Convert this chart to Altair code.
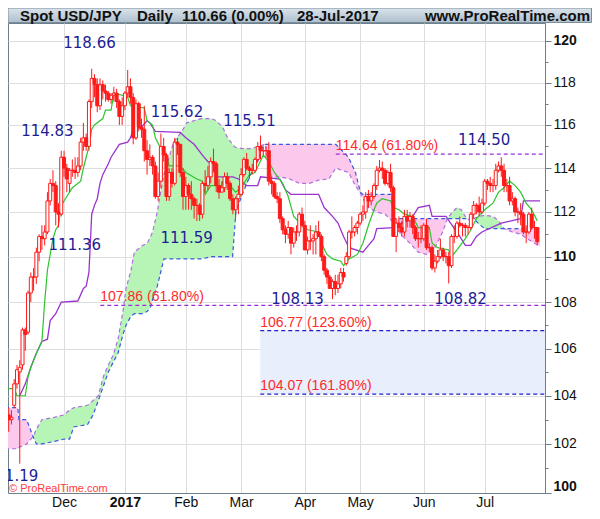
import altair as alt
import pandas as pd

# ---------------- data (trading-day index: 0 = Thu 1-Dec-2016) ----------------
FIRST_DAY = -20  # Thu 3-Nov-2016

OPEN = [
    # Nov 2016
    103.2, 103.0, 103.6, 104.5, 105.0, 105.3, 106.8, 106.7, 108.4, 109.1,
    109.1, 110.2, 110.9, 110.8, 111.1, 112.5, 113.3, 113.2, 112.0, 111.9,
    # Dec
    114.5, 114.0, 113.3, 113.9, 113.9, 113.8, 114.1, 115.2, 115.4, 115.0, 117.1,
    118.2, 117.9, 116.9, 117.9, 117.6, 117.5, 117.2, 117.4, 117.5, 117.1, 116.4,
    # Jan 2017
    116.9, 117.5, 117.8, 117.3, 115.4, 117.0, 115.9, 115.8, 114.8, 114.4, 114.5,
    114.1, 112.7, 113.4, 115.0, 114.6, 112.7, 113.8, 113.3, 115.2, 115.1, 113.8,
    # Feb
    112.7, 113.2, 112.8, 112.6, 112.3, 112.3, 111.9, 113.3, 113.2, 113.6,
    114.3, 114.2, 113.2, 112.9, 113.1, 113.6, 113.3, 112.6, 112.1, 112.6,
    # Mar
    112.8, 113.7, 114.4, 114.0, 113.9, 113.9, 114.4, 115.0, 114.8, 114.8, 114.8, 113.4,
    113.3, 112.7, 112.6, 111.7, 111.2, 111.0, 111.3, 110.6, 111.1, 111.1, 111.9,
    # Apr
    111.4, 110.3, 110.7, 110.7, 110.8, 111.1, 110.9, 110.0, 109.4, 109.1,
    108.6, 108.9, 108.6, 108.8, 109.3, 109.7, 110.0, 111.1, 111.1, 111.3,
    # May
    111.5, 111.9, 112.0, 112.7, 112.5, 112.7, 113.2, 113.9, 114.0, 113.9, 113.3, 113.8,
    113.1, 110.9, 111.5, 111.3, 111.1, 111.8, 111.6, 111.8, 111.3, 110.8, 110.8,
    # Jun
    110.8, 111.4, 110.4, 110.4, 109.5, 109.8, 110.0, 110.3, 110.0, 110.0, 109.6,
    110.9, 110.9, 111.5, 111.4, 111.4, 111.3, 111.3, 111.9, 112.3, 112.3, 112.0,
    # Jul
    112.4, 113.4, 113.3, 113.2, 113.2, 113.9, 114.1, 113.9, 113.2, 113.2,
    112.5, 112.6, 112.0, 112.0, 111.9, 111.1, 111.1, 111.9, 111.3, 111.3,
]
HIGH = [
    103.5, 103.4, 104.7, 105.3, 105.5, 106.9, 106.9, 108.5, 109.3, 109.5,
    110.4, 111.0, 111.4, 111.4, 112.9, 113.5, 113.9, 113.4, 112.4, 114.8,
    114.8, 114.2, 114.0, 114.4, 114.5, 114.5, 115.4, 116.1, 115.6, 117.2, 118.66,
    118.4, 118.2, 118.2, 118.1, 117.9, 117.6, 117.5, 117.8, 117.7, 117.2, 117.3,
    117.6, 118.6, 118.2, 117.5, 117.2, 117.1, 116.3, 116.9, 115.3, 115.1, 114.6,
    114.3, 113.8, 115.6, 115.4, 114.7, 114.0, 114.0, 115.4, 115.4, 115.1, 114.0,
    113.6, 113.3, 113.4, 112.7, 112.6, 112.4, 113.4, 113.9, 114.1, 114.5,
    114.9, 114.3, 113.5, 113.4, 113.8, 113.8, 113.4, 112.8, 112.7, 113.2,
    114.0, 114.5, 114.7, 114.1, 114.2, 114.5, 115.2, 115.51, 115.0, 115.0, 115.2, 113.6,
    113.4, 112.9, 112.9, 111.8, 111.4, 111.6, 111.3, 111.3, 111.4, 112.0, 112.2,
    111.6, 110.9, 111.4, 111.0, 111.4, 111.6, 111.0, 110.1, 109.5, 109.2,
    109.0, 109.2, 109.2, 109.5, 109.5, 110.2, 111.2, 111.8, 111.4, 111.6,
    112.0, 112.3, 112.9, 113.0, 112.9, 113.3, 114.1, 114.37, 114.3, 114.0, 113.9, 114.2,
    113.2, 111.7, 111.8, 111.6, 112.1, 112.1, 112.0, 111.9, 111.4, 111.1, 111.4,
    111.5, 111.7, 110.6, 110.5, 110.1, 110.3, 110.8, 110.4, 110.2, 110.2, 111.0,
    111.4, 111.6, 111.8, 111.5, 111.5, 111.4, 112.0, 112.5, 112.4, 112.7, 112.6,
    113.5, 113.5, 113.6, 113.5, 114.2, 114.3, 114.50, 114.2, 113.5, 113.6,
    112.9, 112.7, 112.2, 112.4, 112.0, 111.4, 112.0, 112.2, 111.6, 111.3,
]
LOW = [
    102.5, 102.8, 103.5, 104.3, 101.19, 105.1, 105.9, 106.6, 108.0, 108.5,
    108.8, 109.8, 110.3, 110.5, 111.0, 112.3, 112.9, 111.4, 111.3, 111.8,
    113.6, 112.9, 112.9, 113.6, 113.5, 113.6, 113.9, 114.8, 114.8, 114.8, 116.8,
    117.3, 116.6, 116.7, 117.2, 117.1, 117.1, 117.0, 117.1, 116.8, 116.0, 116.0,
    116.7, 117.3, 117.0, 115.1, 115.3, 115.7, 115.4, 114.3, 113.7, 114.1, 113.7,
    112.6, 112.5, 113.1, 114.3, 112.5, 112.5, 113.1, 113.2, 114.6, 113.6, 112.1,
    112.1, 112.1, 112.1, 111.7, 111.59, 111.6, 111.7, 112.9, 113.0, 113.3,
    113.8, 112.9, 112.6, 112.9, 112.9, 113.0, 112.5, 111.9, 111.7, 111.9,
    112.7, 113.6, 113.9, 113.5, 113.7, 113.8, 114.3, 114.4, 114.6, 114.5, 113.2, 112.8,
    112.6, 112.4, 111.5, 111.0, 110.6, 110.8, 110.1, 110.4, 110.7, 110.9, 111.3,
    110.3, 110.1, 110.3, 110.1, 110.1, 110.9, 109.8, 109.2, 108.8, 108.6,
    108.13, 108.3, 108.4, 108.6, 108.9, 109.6, 109.9, 110.8, 110.9, 111.0,
    111.4, 111.6, 111.7, 112.2, 112.3, 112.6, 113.0, 113.8, 113.5, 113.2, 113.2, 112.9,
    110.9, 110.2, 111.1, 110.9, 110.9, 111.3, 111.3, 111.0, 110.7, 110.4, 110.6,
    110.7, 110.3, 110.2, 109.4, 109.3, 109.7, 109.9, 109.8, 109.7, 108.82, 109.5,
    110.6, 110.8, 111.3, 110.9, 110.9, 111.0, 111.2, 111.7, 111.9, 111.8, 111.9,
    112.3, 113.0, 112.9, 112.9, 113.0, 113.8, 113.6, 112.9, 112.9, 112.3,
    112.3, 111.8, 111.5, 111.4, 111.0, 110.6, 111.0, 111.2, 110.8, 110.5,
]
CLOSE = [
    103.0, 103.1, 104.5, 105.1, 105.2, 106.8, 106.6, 108.4, 109.1, 109.1,
    110.2, 110.9, 110.8, 111.1, 112.5, 113.3, 113.2, 112.0, 111.9, 114.5,
    114.0, 113.5, 113.9, 113.9, 113.8, 114.1, 115.2, 115.4, 115.0, 117.1, 118.2,
    117.9, 116.9, 117.9, 117.6, 117.5, 117.2, 117.4, 117.5, 117.1, 116.4, 116.9,
    117.5, 117.8, 117.3, 115.4, 117.0, 115.9, 115.8, 114.8, 114.4, 114.5, 114.1,
    112.7, 113.4, 115.0, 114.6, 112.7, 113.8, 113.3, 115.2, 115.1, 113.8, 112.7,
    113.2, 112.8, 112.6, 112.3, 112.3, 111.9, 113.3, 113.2, 113.6, 114.3,
    114.2, 113.2, 112.9, 113.1, 113.6, 113.3, 112.6, 112.1, 112.6, 112.8,
    113.7, 114.4, 114.0, 113.9, 113.9, 114.4, 115.0, 114.8, 114.8, 114.8, 113.4, 113.3,
    112.7, 112.6, 111.7, 111.2, 111.0, 111.3, 110.6, 111.1, 111.1, 111.9, 111.4,
    110.3, 110.7, 110.7, 110.8, 111.1, 110.9, 110.0, 109.4, 109.1, 108.6,
    108.9, 108.6, 108.8, 109.3, 109.1, 110.0, 111.1, 111.1, 111.3, 111.5,
    111.9, 112.0, 112.7, 112.5, 112.7, 113.2, 113.9, 114.0, 113.9, 113.3, 113.8, 113.1,
    110.9, 111.5, 111.3, 111.1, 111.8, 111.6, 111.8, 111.3, 110.8, 110.8, 110.8,
    111.4, 110.4, 110.4, 109.5, 109.8, 110.0, 110.3, 110.0, 110.0, 109.6, 110.9,
    110.9, 111.5, 111.4, 111.4, 111.3, 111.3, 111.9, 112.3, 112.3, 112.0, 112.4,
    113.4, 113.3, 113.2, 113.2, 113.9, 114.1, 113.9, 113.2, 113.2, 112.5,
    112.6, 112.0, 112.0, 111.9, 111.1, 111.1, 111.9, 111.3, 111.3, 110.66,
]
assert len(OPEN) == len(HIGH) == len(LOW) == len(CLOSE)
DAY = list(range(FIRST_DAY, FIRST_DAY + len(CLOSE)))

MONTH_TICKS = [0, 22, 44, 64, 87, 107, 130, 152]
MONTH_LABELS = ["Dec", "2017", "Feb", "Mar", "Apr", "May", "Jun", "Jul"]

# Tenkan-sen (green) and Kijun-sen (purple)
TENKAN_DAY = [-21, -18, -17, -14, -13, -12, -10, -8, -7, -6, -5, -4, -3, -2, -1, 1, 2, 3, 6, 7,
              8, 9, 10, 11, 14, 15, 17, 18, 21, 23, 24, 29, 30, 32, 33, 35, 37, 38, 42, 44,
              48, 50, 51, 53, 57, 58, 60, 62, 64, 67, 69, 72, 74, 76, 79, 81, 83, 86, 88, 92,
              93, 95, 97, 100, 101, 103, 106, 108, 110, 112, 113, 115, 118, 119, 121, 123, 126,
              128, 132, 133, 135, 139, 140, 142, 145, 147, 149, 152, 155, 157, 159, 161, 163,
              165, 167, 169, 171]
TENKAN = [104.3, 104.3, 104.0, 104.0, 104.8, 105.2, 105.8, 106.3, 108.0, 109.4, 110.1, 110.8,
          111.2, 111.4, 112.3, 112.7, 112.9, 113.1, 113.4, 114.0, 114.5, 115.0, 115.8, 116.0,
          116.3, 116.7, 116.7, 117.5, 117.4, 117.3, 116.9, 116.8, 116.2, 116.0, 115.4, 114.9,
          114.6, 114.1, 114.1, 113.8, 113.5, 113.4, 112.8, 113.2, 113.2, 113.6, 113.2, 112.9,
          113.1, 113.7, 113.8, 114.6, 114.3, 113.8, 113.3, 112.7, 111.8, 111.4, 111.2, 111.1,
          110.6, 110.1, 109.9, 109.8, 109.6, 109.9, 110.1, 110.6, 111.4, 112.1, 112.4, 112.6,
          112.5, 112.2, 112.1, 111.9, 111.8, 111.3, 111.3, 110.6, 110.4, 110.3, 110.0, 110.3,
          110.8, 111.2, 111.7, 112.1, 112.4, 112.9, 113.1, 113.4, 113.2, 112.9, 112.4, 112.1,
          111.6]
KIJUN_DAY = [-16, -14, -12, -10, -8, -6, -5, -3, -1, 5, 7, 8, 9, 10, 11, 12, 13, 14, 16, 17,
             19, 20, 23, 24, 25, 28, 30, 31, 33, 42, 44, 47, 50, 52, 54, 55, 61, 63, 66, 70,
             71, 78, 80, 82, 92, 94, 97, 99, 101, 103, 108, 110, 112, 113, 119, 124, 126, 128,
             132, 133, 138, 143, 145, 147, 149, 151, 158, 165, 166, 172]
KIJUN = [104.0, 104.5, 105.2, 105.8, 106.3, 106.4, 107.2, 107.5, 108.0, 108.05, 108.6, 108.7,
         109.3, 111.9, 112.3, 112.6, 113.3, 113.7, 114.2, 114.5, 114.9, 115.1, 115.2, 115.4,
         115.8, 115.9, 116.2, 116.1, 115.7, 115.65, 115.4, 115.1, 114.6, 114.3, 114.2, 113.6,
         113.6, 113.5, 113.2, 113.2, 113.6, 113.5, 113.0, 112.8, 112.8, 112.2, 111.8, 111.5,
         110.9, 110.4, 110.2, 110.5, 110.8, 111.25, 111.3, 111.6, 111.8, 112.2, 112.3, 111.8,
         111.8, 110.9, 110.5, 110.5, 110.9, 111.1, 111.5, 111.7, 112.5, 112.5]

# Ichimoku cloud: senkou span A (purple dashed) and span B (blue dashed)
CLOUD_DAY = [-21.3, -16.7, -16.3, -13.5, -11.2, -10, -8, -3.5, 0, 2,
             3.5, 8.5, 10.5, 12.4, 14.2, 16, 17.7, 19.5, 21.3, 22.4,
             24.2, 25.4, 28.4, 30.1, 31.3, 32, 33.7, 34.9, 36.1, 39.6,
             42.6, 44.3, 49.6, 53.2, 55, 57.3, 59.1, 60.9, 61.5, 62.1,
             64.4, 67.4, 70.3, 71.5, 72.7, 74, 75, 78, 81.6, 85,
             88.7, 92, 95.7, 98.2, 100.5, 102.8, 105.3, 107.1, 108, 110,
             113, 116, 118.5, 118.9, 122, 125, 128, 131, 134, 137,
             138.5, 140, 142, 143.5, 145.5, 147, 148, 150, 152, 155,
             157, 159, 162, 165, 168, 172]
SPAN_A = [101.8, 101.8, 101.85, 102.0, 102.3, 102.6, 103.0, 103.1, 103.2, 103.4,
          103.5, 103.6, 103.8, 104.0, 104.8, 105.3, 105.7, 106.4, 107.6, 108.6,
          109.4, 110.2, 110.5, 110.6, 110.9, 111.1, 112.0, 112.9, 113.7, 115.2,
          115.7, 116.1, 116.3, 116.3, 116.2, 115.9, 115.4, 115.1, 115.0, 114.95,
          114.9, 114.9, 115.0, 115.05, 115.1, 114.2, 113.6, 113.6, 113.5, 113.3,
          113.3, 113.45, 113.5, 114.0, 113.9, 113.8, 113.2, 112.85, 112.6, 112.2,
          112.0, 111.9, 111.6, 111.55, 110.95, 110.6, 110.2, 110.1, 110.4, 111.15,
          111.7, 111.95, 112.2, 112.1, 111.7, 111.6, 111.7, 111.8, 111.85, 111.8,
          111.6, 111.25, 111.1, 111.0, 110.75, 110.45]
SPAN_B = [103.5, 103.5, 103.0, 103.0, 102.3, 102.0, 102.0, 102.1, 102.2, 102.2,
          102.7, 102.8, 103.2, 103.8, 104.4, 105.0, 105.4, 105.8, 106.6, 107.0,
          107.4, 107.5, 107.5, 107.6, 107.8, 108.1, 108.7, 109.3, 109.9, 109.9,
          109.9, 109.9, 109.9, 110.0, 110.0, 110.0, 110.0, 110.0, 111.0, 112.0,
          112.8, 113.7, 114.4, 114.9, 115.1, 115.1, 115.1, 115.1, 115.1, 115.1,
          115.1, 115.1, 115.1, 115.1, 114.8, 114.5, 113.8, 112.9, 112.8, 112.8,
          112.8, 112.8, 112.8, 111.7, 111.7, 111.7, 111.7, 111.7, 111.7, 111.7,
          111.7, 111.7, 111.7, 111.7, 111.7, 111.7, 111.7, 111.45, 111.25, 111.25,
          111.25, 111.25, 111.25, 111.25, 111.25, 111.25]
CLOUD_PARTS = [(-21.3, -11.2, "bear"), (-11.2, 72.7, "bull"), (72.7, 138.5, "bear"),
               (138.5, 145.5, "bull"), (145.5, 148, "bear"), (148, 159, "bull"),
               (159, 172, "bear")]

# Fibonacci levels
FIB_TEXT = ["107.86 (61.80%)", "114.64 (61.80%)", "106.77 (123.60%)", "104.07 (161.80%)"]
FIB_LEVEL = [107.86, 114.64, 106.77, 104.07]
FIB_FROM = [13.1, 98.2, 70.9, 70.9]
FIB_KIND = ["retr", "retr", "ext", "ext"]

# swing-point labels
PIVOT_TEXT = ["118.66", "114.83", "111.36", "115.62", "115.51", "111.59",
              "108.13", "108.82", "114.50", "101.19"]
PIVOT_DAY = [9.2, -6.0, 3.9, 40.8, 67.0, 44.3, 84.4, 143.3, 151.8, -18.8]
PIVOT_PRICE = [119.9, 115.73, 110.54, 116.62, 116.20, 110.81, 108.13, 108.13, 115.31, 100.70]

# ---------------- styling ----------------
RED = "#ff1a1a"
GREEN = "#2cc52c"
PURPLE = "#9a33cf"
SPAN_A_COL = "#b06ee0"
SPAN_B_COL = "#3a58e0"
BULL_FILL = "#b7f5b7"
BEAR_FILL = "#fcc8eb"
RETR_COL = "#9a2fd8"
EXT_COL = "#2020c8"
BAND_COL = "#e8eefc"
NAVY = "#1d1d96"
FRAME = "#6e7f8c"
GRID = "#dedede"
FONT = "Liberation Sans"

W, H = 537, 470
xs = alt.Scale(domain=[-18.44, 171.99], nice=False, zero=False)
ys = alt.Scale(type="log", domain=[100.0, 120.87], nice=False)

label_expr = "".join(f"datum.value == {t} ? '{l}' : " for t, l in zip(MONTH_TICKS, MONTH_LABELS)) + "''"
x_axis = alt.Axis(
    values=MONTH_TICKS, labelExpr=label_expr, title=None, ticks=False, labelPadding=2,
    labelFont=FONT, labelFontSize=14, labelColor="#111111", labelOverlap=False, labelFlush=False,
    labelFontWeight={"condition": {"test": f"datum.value == {MONTH_TICKS[1]}", "value": "bold"},
                     "value": "normal"},
    domainColor=FRAME, grid=True, gridColor=GRID, gridWidth=1,
)
y_axis = alt.Axis(
    orient="right", values=list(range(100, 121)), format="d", title=None,
    labelExpr="datum.value % 2 == 0 ? datum.label : ''",
    labelFont=FONT, labelFontSize=14, labelColor="#111111", labelOverlap=False,
    labelFontWeight={"condition": {"test": "datum.value % 10 == 0", "value": "bold"},
                     "value": "normal"},
    tickSize={"condition": {"test": "datum.value % 2 == 0", "value": 6}, "value": 3},
    tickColor=FRAME, domainColor=FRAME, labelPadding=2, labelFlush=5,
    grid=True, gridColor=GRID,
    gridOpacity={"condition": {"test": "datum.value % 2 == 0", "value": 1}, "value": 0},
)

def X(field):
    return alt.X(field, type="quantitative", scale=xs, axis=x_axis)

def Y(field):
    return alt.Y(field, type="quantitative", scale=ys, axis=y_axis)

# ---------------- tables ----------------
candles = pd.DataFrame({"day": DAY, "open": OPEN, "high": HIGH, "low": LOW, "close": CLOSE})
up = candles[candles["close"] >= candles["open"]]
down = candles[candles["close"] < candles["open"]]

tenkan_df = pd.DataFrame({"day": TENKAN_DAY, "v": TENKAN})
kijun_df = pd.DataFrame({"day": KIJUN_DAY, "v": KIJUN})
cloud_df = pd.DataFrame({"day": CLOUD_DAY, "a": SPAN_A, "b": SPAN_B})
segs = []
for k, (lo, hi, kind) in enumerate(CLOUD_PARTS):
    s = cloud_df[(cloud_df["day"] >= lo) & (cloud_df["day"] <= hi)].copy()
    s["part"] = k
    s["kind"] = kind
    segs.append(s)
cloud_parts = pd.concat(segs, ignore_index=True)

fib_df = pd.DataFrame({"text": FIB_TEXT, "level": FIB_LEVEL, "start": FIB_FROM, "kind": FIB_KIND})
ext = fib_df[fib_df["kind"] == "ext"]
band_df = pd.DataFrame({"start": [ext["start"].min()], "lo": [ext["level"].min()],
                        "hi": [ext["level"].max()]})
pivot_df = pd.DataFrame({"text": PIVOT_TEXT, "day": PIVOT_DAY, "price": PIVOT_PRICE})
one = pd.DataFrame({"k": [0]})

# ---------------- layers ----------------
band = alt.Chart(band_df).mark_rect(color=BAND_COL, clip=True).encode(
    x=X("start"), x2=alt.value(W), y=Y("lo"), y2="hi")

ext_lines = alt.Chart(fib_df[fib_df["kind"] == "ext"]).mark_rule(
    color=EXT_COL, strokeDash=[4, 3], strokeWidth=1.2, clip=True).encode(
    x=X("start"), x2=alt.value(W), y=Y("level"))
retr_lines = alt.Chart(fib_df[fib_df["kind"] == "retr"]).mark_rule(
    color=RETR_COL, strokeDash=[4, 3], strokeWidth=1.3, clip=True).encode(
    x=X("start"), x2=alt.value(W), y=Y("level"))

bull = alt.Chart(cloud_parts[cloud_parts["kind"] == "bull"]).mark_area(
    color=BULL_FILL, clip=True).encode(x=X("day"), y=Y("a"), y2="b", detail="part:N")
bear = alt.Chart(cloud_parts[cloud_parts["kind"] == "bear"]).mark_area(
    color=BEAR_FILL, clip=True).encode(x=X("day"), y=Y("a"), y2="b", detail="part:N")
span_a = alt.Chart(cloud_df).mark_line(
    color=SPAN_A_COL, strokeDash=[4, 3], strokeWidth=1.2, clip=True).encode(x=X("day"), y=Y("a"))
span_b = alt.Chart(cloud_df).mark_line(
    color=SPAN_B_COL, strokeDash=[4, 3], strokeWidth=1.2, clip=True).encode(x=X("day"), y=Y("b"))

kijun = alt.Chart(kijun_df).mark_line(color=PURPLE, strokeWidth=1.3, clip=True).encode(
    x=X("day"), y=Y("v"))
tenkan = alt.Chart(tenkan_df).mark_line(color=GREEN, strokeWidth=1.2, clip=True).encode(
    x=X("day"), y=Y("v"))

wicks = alt.Chart(candles).mark_rule(color=RED, strokeWidth=1, clip=True).encode(
    x=X("day"), y=Y("low"), y2="high")
body_up = alt.Chart(up).mark_bar(size=3, fill="#ffffff", stroke=RED, strokeWidth=1, clip=True).encode(
    x=X("day"), y=Y("open"), y2="close")
body_down = alt.Chart(down).mark_bar(size=3, fill=RED, stroke=RED, strokeWidth=1, clip=True).encode(
    x=X("day"), y=Y("open"), y2="close")

pivots = alt.Chart(pivot_df).mark_text(
    font="DejaVu Sans", fontSize=15, color=NAVY, align="center", baseline="middle").encode(
    x=X("day"), y=Y("price"), text="text:N")
fib_text = alt.Chart(fib_df).mark_text(
    font=FONT, fontSize=14, color="#ff2a2a", align="left", baseline="middle", dy=-8).encode(
    x=X("start"), y=Y("level"), text="text:N")

watermark = alt.Chart(one).mark_text(
    text="© ProRealTime.com", font=FONT, fontSize=11, color="#ff3a3a",
    align="left", baseline="middle").encode(x=alt.value(1), y=alt.value(H - 4))

header_fill = alt.Gradient(
    gradient="linear",
    stops=[alt.GradientStop(color="#dbe4eb", offset=0), alt.GradientStop(color="#aebfcd", offset=1)],
    x1=0, x2=0, y1=0, y2=1)
header = alt.Chart(one).mark_rect(fill=header_fill, stroke="#7d8e9b", strokeWidth=1).encode(
    x=alt.value(0), x2=alt.value(583.5), y=alt.value(-15), y2=alt.value(-0.5))

def htext(txt, px, align="left"):
    return alt.Chart(one).mark_text(
        text=txt, font=FONT, fontSize=15, fontWeight="bold", color="#111111",
        align=align, baseline="middle").encode(x=alt.value(px), y=alt.value(-7))

head_texts = [htext("Spot USD/JPY", 12), htext("Daily", 129), htext("110.66 (0.00%)", 174),
              htext("28-Jul-2017", 289), htext("www.ProRealTime.com", 582, "right")]

chart = alt.layer(
    band, ext_lines, bull, bear, span_a, span_b, retr_lines, kijun, tenkan,
    wicks, body_up, body_down, pivots, fib_text, watermark, header, *head_texts,
).properties(
    width=W, height=H,
    padding={"left": 0, "top": 15, "right": 47, "bottom": 18},
    autosize=alt.AutoSizeParams(type="none"),
    background="white",
).configure_view(stroke=FRAME, strokeWidth=1)

chart.save("out.html", embed_options={"renderer": "svg", "actions": False})
